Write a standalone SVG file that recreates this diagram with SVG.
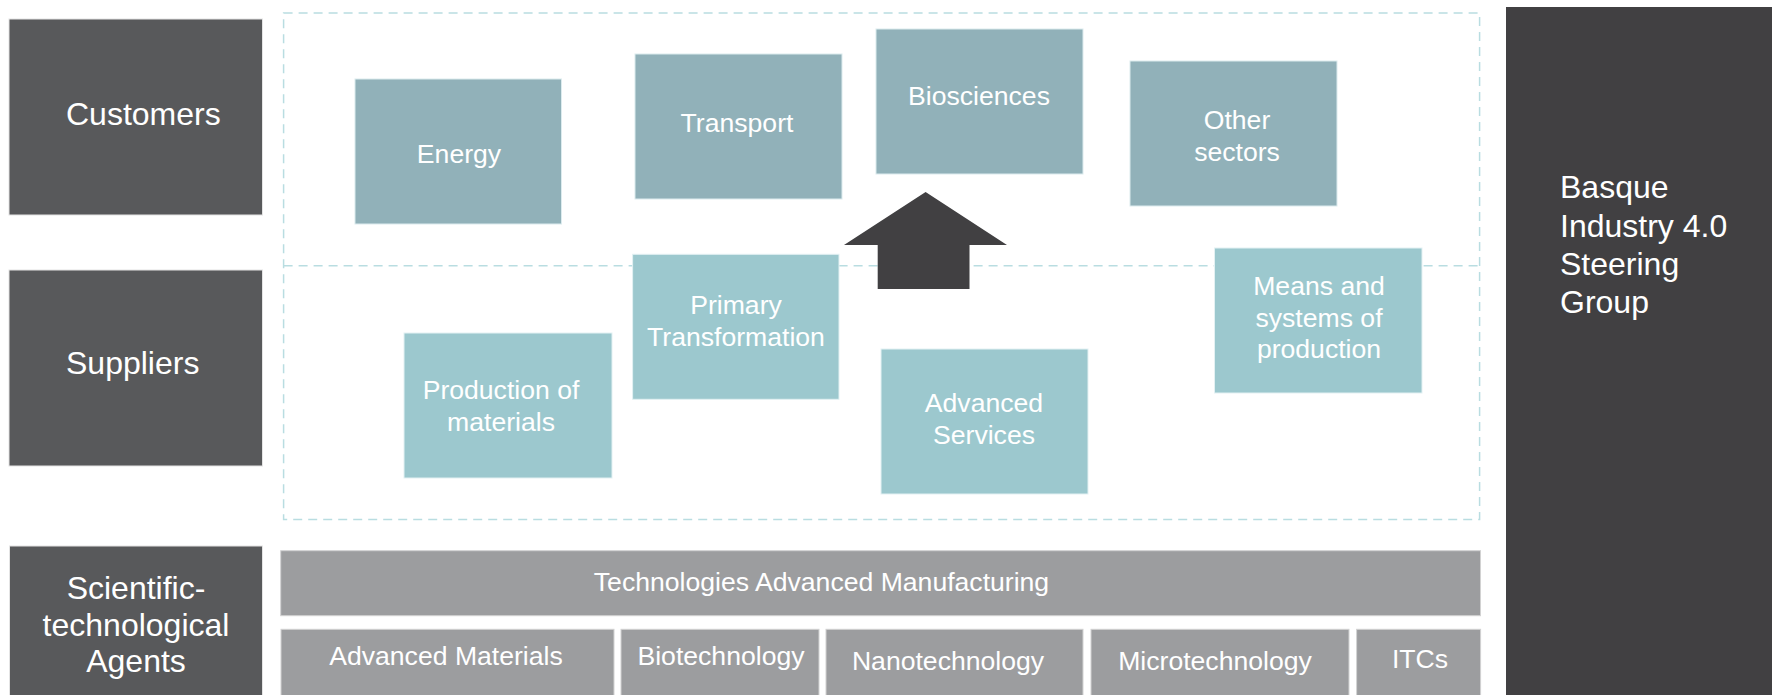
<svg xmlns="http://www.w3.org/2000/svg" width="1775" height="695" viewBox="0 0 1775 695">
<style>
.lbl{fill:#58595b;stroke:#e4e4e4;stroke-width:1}
.cust{fill:#91b1b9;stroke:#dcebee;stroke-width:1}
.supp{fill:#9cc8ce;stroke:#e3f1f3;stroke-width:1}
.tech{fill:#9c9d9f;stroke:#d2d2d2;stroke-width:1}
.dark{fill:#414042}
text{font-family:"Liberation Sans",Arial,sans-serif;fill:#ffffff}
.t32{font-size:32px}
.t26{font-size:26.6px}
.c{text-anchor:middle}
.dash{fill:none;stroke:#b9dde1;stroke-width:1.5;stroke-dasharray:9 6}
</style>
<rect width="1775" height="695" fill="#ffffff"/>
<g id="region">
<rect class="dash" x="283.6" y="13" width="1196" height="506.6"/>
<line class="dash" x1="283.6" y1="265.7" x2="1479.7" y2="265.7"/>
</g>
<g id="customers"><rect class="lbl" x="9" y="19" width="253.5" height="196"/><text class="t32" x="66" y="125">Customers</text></g>
<g id="suppliers"><rect class="lbl" x="9" y="270" width="253.5" height="196"/><text class="t32" x="66" y="374">Suppliers</text></g>
<g id="agents"><rect class="lbl" x="9.5" y="546" width="253" height="152"/>
<text class="t32 c" x="136" y="599">Scientific-</text><text class="t32 c" x="136" y="636">technological</text><text class="t32 c" x="136" y="672">Agents</text></g>
<g id="steering"><rect class="dark" x="1506" y="7" width="266" height="690"/>
<text class="t32" x="1560" y="198">Basque</text><text class="t32" x="1560" y="237">Industry 4.0</text><text class="t32" x="1560" y="275">Steering</text><text class="t32" x="1560" y="313">Group</text></g>
<g id="energy"><rect class="cust" x="355" y="79" width="206.5" height="145"/><text class="t26 c" x="459" y="163">Energy</text></g>
<g id="transport"><rect class="cust" x="635" y="54" width="207" height="145"/><text class="t26 c" x="737" y="132">Transport</text></g>
<g id="biosciences"><rect class="cust" x="876" y="29" width="207" height="145"/><text class="t26 c" x="979" y="105">Biosciences</text></g>
<g id="other-sectors"><rect class="cust" x="1130" y="61" width="207" height="145"/><text class="t26 c" x="1237" y="129">Other</text><text class="t26 c" x="1237" y="161">sectors</text></g>
<g id="production-materials"><rect class="supp" x="404" y="333" width="208" height="145"/><text class="t26 c" x="501" y="399">Production of</text><text class="t26 c" x="501" y="431">materials</text></g>
<g id="primary-transformation"><rect class="supp" x="632.6" y="254.3" width="206.4" height="145"/><text class="t26 c" x="736" y="314">Primary</text><text class="t26 c" x="736" y="346">Transformation</text></g>
<g id="advanced-services"><rect class="supp" x="881" y="349" width="207" height="145"/><text class="t26 c" x="984" y="412">Advanced</text><text class="t26 c" x="984" y="444">Services</text></g>
<g id="means-production"><rect class="supp" x="1214.5" y="248" width="207.5" height="145"/><text class="t26 c" x="1319" y="295">Means and</text><text class="t26 c" x="1319" y="327">systems of</text><text class="t26 c" x="1319" y="358">production</text></g>
<g id="tech-advanced-manufacturing"><rect class="tech" x="280.7" y="550.7" width="1199.8" height="65"/><text class="t26 c" x="821.5" y="591">Technologies Advanced Manufacturing</text></g>
<g id="advanced-materials"><rect class="tech" x="281" y="629.3" width="333" height="68"/><text class="t26 c" x="446" y="665">Advanced Materials</text></g>
<g id="biotechnology"><rect class="tech" x="621" y="629.3" width="198" height="68"/><text class="t26 c" x="721" y="665">Biotechnology</text></g>
<g id="nanotechnology"><rect class="tech" x="826" y="629.3" width="257" height="68"/><text class="t26 c" x="948" y="670">Nanotechnology</text></g>
<g id="microtechnology"><rect class="tech" x="1091" y="629.3" width="258" height="68"/><text class="t26 c" x="1215" y="670">Microtechnology</text></g>
<g id="itcs"><rect class="tech" x="1356.6" y="629.3" width="124" height="68"/><text class="t26 c" x="1420" y="668">ITCs</text></g>
<g id="connectors">
<polygon class="dark" points="925.6,192 1007,245 969.5,245 969.5,289 877.7,289 877.7,245 844,245"/>
</g>
</svg>
